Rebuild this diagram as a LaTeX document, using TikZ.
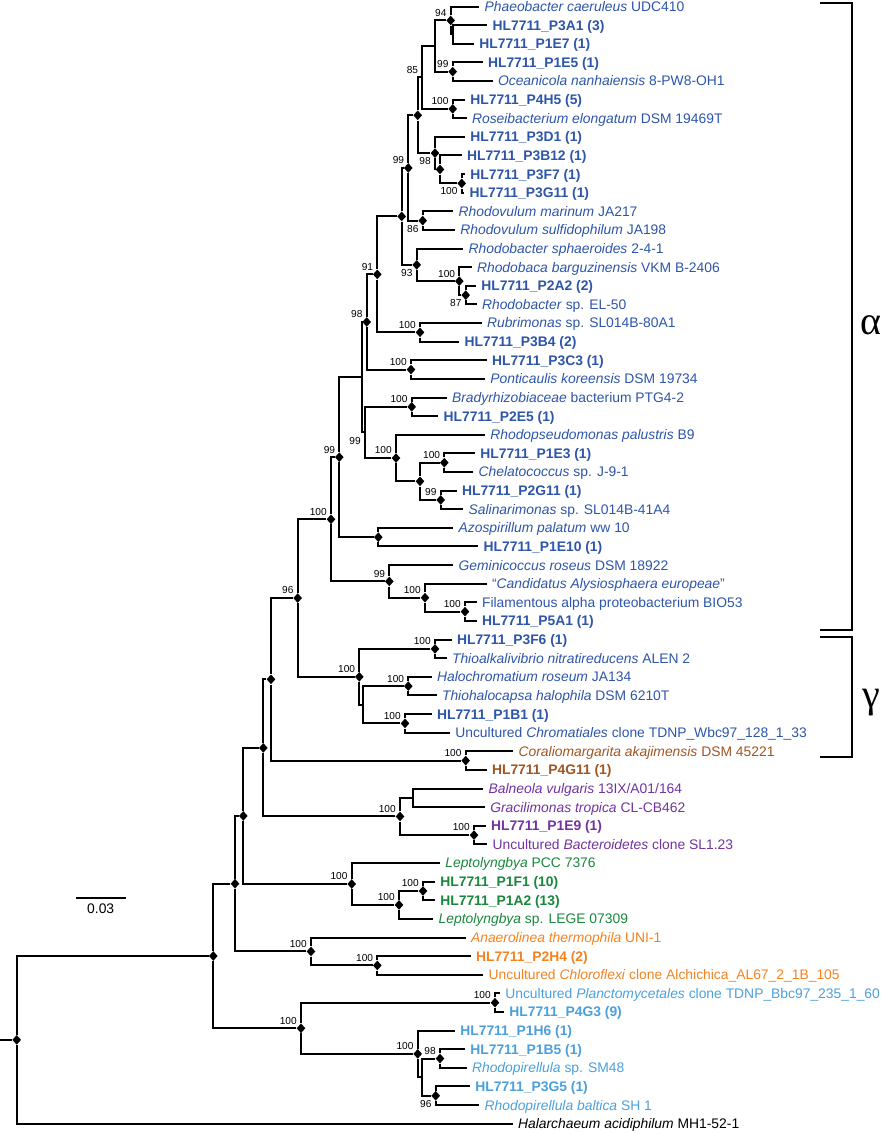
\documentclass[tikz,border=0pt]{standalone}
\usepackage{fontspec}
\setmainfont{Liberation Sans}
\newfontfamily\greekfont{Liberation Serif}
\usetikzlibrary{shapes.geometric}
\definecolor{alphablue}{RGB}{45,85,170}
\definecolor{verrubrown}{RGB}{160,85,35}
\definecolor{bactpurple}{RGB}{115,50,160}
\definecolor{cyangreen}{RGB}{25,135,60}
\definecolor{chlororange}{RGB}{245,130,30}
\definecolor{planctblue}{RGB}{75,160,220}
\newcommand{\leaffont}{\fontsize{10.4}{12}\selectfont}
\tikzset{
    leaf/.style = {anchor=west, inner sep=0.5pt, outer sep=3.5pt, text height=7.4pt, text depth=0pt, font=\leaffont},
    iso/.style = {font=\leaffont\bfseries},
    ca/.style = {text=alphablue},
    cv/.style = {text=verrubrown},
    cb/.style = {text=bactpurple},
    cc/.style = {text=cyangreen},
    cf/.style = {text=chlororange},
    cp/.style = {text=planctblue},
    junc/.style = {diamond, fill=black, inner sep=0pt, minimum width=6.6pt, minimum height=7.4pt},
    boot/.style = {font=\fontsize{7.6}{8}\selectfont, inner sep=0pt, text height=5.4pt, text depth=0pt},
    bsa/.style = {boot, anchor=east, xshift=-3pt, yshift=5.8pt}, % above left
    bsb/.style = {boot, anchor=east, xshift=-3pt, yshift=-6pt}, % below left
    branch/.style = {-, line width=1.5pt, black},
    bracket/.style = {-, line width=1.2pt, black},
    greek/.style = {font=\greekfont\fontsize{30}{32}\selectfont, inner sep=0pt}
}

\begin{document}
\begin{tikzpicture}[x=0.75pt, y=-13.965pt]
\useasboundingbox (0,-0.349) rectangle (885,60.553);

% tips
\node[leaf,ca] at (479.3, 0) (t0) {\textit{Phaeobacter caeruleus} UDC410};
\node[leaf,ca,iso] at (487.3, 1) (t1) {HL7711\_P3A1 (3)};
\node[leaf,ca,iso] at (474.0, 2) (t2) {HL7711\_P1E7 (1)};
\node[leaf,ca,iso] at (482.7, 3) (t3) {HL7711\_P1E5 (1)};
\node[leaf,ca] at (492.7, 4) (t4) {\textit{Oceanicola nanhaiensis} 8-PW8-OH1};
\node[leaf,ca,iso] at (465.0, 5) (t5) {HL7711\_P4H5 (5)};
\node[leaf,ca] at (466.7, 6) (t6) {\textit{Roseibacterium elongatum} DSM 19469T};
\node[leaf,ca,iso] at (465.0, 7) (t7) {HL7711\_P3D1 (1)};
\node[leaf,ca,iso] at (461.7, 8) (t8) {HL7711\_P3B12 (1)};
\node[leaf,ca,iso] at (465.0, 9) (t9) {HL7711\_P3F7 (1)};
\node[leaf,ca,iso] at (464.3,10) (t10) {HL7711\_P3G11 (1)};
\node[leaf,ca] at (453.3,11) (t11) {\textit{Rhodovulum marinum} JA217};
\node[leaf,ca] at (455.0,12) (t12) {\textit{Rhodovulum sulfidophilum} JA198};
\node[leaf,ca] at (463.3,13) (t13) {\textit{Rhodobacter sphaeroides} 2-4-1};
\node[leaf,ca] at (471.7,14) (t14) {\textit{Rhodobaca barguzinensis} VKM B-2406};
\node[leaf,ca,iso] at (476.0,15) (t15) {HL7711\_P2A2 (2)};
\node[leaf,ca] at (476.7,16) (t16) {\textit{Rhodobacter} sp. EL-50};
\node[leaf,ca] at (481.7,17) (t17) {\textit{Rubrimonas} sp. SL014B-80A1};
\node[leaf,ca,iso] at (459.3,18) (t18) {HL7711\_P3B4 (2)};
\node[leaf,ca,iso] at (486.7,19) (t19) {HL7711\_P3C3 (1)};
\node[leaf,ca] at (485.0,20) (t20) {\textit{Ponticaulis koreensis} DSM 19734};
\node[leaf,ca] at (446.7,21) (t21) {\textit{Bradyrhizobiaceae} bacterium PTG4-2};
\node[leaf,ca,iso] at (438.3,22) (t22) {HL7711\_P2E5 (1)};
\node[leaf,ca] at (485.0,23) (t23) {\textit{Rhodopseudomonas palustris} B9};
\node[leaf,ca,iso] at (475.0,24) (t24) {HL7711\_P1E3 (1)};
\node[leaf,ca] at (473.3,25) (t25) {\textit{Chelatococcus} sp. J-9-1};
\node[leaf,ca,iso] at (456.7,26) (t26) {HL7711\_P2G11 (1)};
\node[leaf,ca] at (463.3,27) (t27) {\textit{Salinarimonas} sp. SL014B-41A4};
\node[leaf,ca] at (453.3,28) (t28) {\textit{Azospirillum palatum} ww 10};
\node[leaf,ca,iso] at (478.3,29) (t29) {HL7711\_P1E10 (1)};
\node[leaf,ca] at (453.3,30) (t30) {\textit{Geminicoccus roseus} DSM 18922};
\node[leaf,ca] at (486.7,31) (t31) {“\textit{Candidatus Alysiosphaera europeae}”};
\node[leaf,ca] at (476.7,32) (t32) {Filamentous alpha proteobacterium BIO53};
\node[leaf,ca,iso] at (476.7,33) (t33) {HL7711\_P5A1 (1)};
\node[leaf,ca,iso] at (451.7,34) (t34) {HL7711\_P3F6 (1)};
\node[leaf,ca] at (446.7,35) (t35) {\textit{Thioalkalivibrio nitratireducens} ALEN 2};
\node[leaf,ca] at (431.7,36) (t36) {\textit{Halochromatium roseum} JA134};
\node[leaf,ca] at (436.7,37) (t37) {\textit{Thiohalocapsa halophila} DSM 6210T};
\node[leaf,ca,iso] at (431.7,38) (t38) {HL7711\_P1B1 (1)};
\node[leaf,ca] at (450.0,39) (t39) {Uncultured \textit{Chromatiales} clone TDNP\_Wbc97\_128\_1\_33};
\node[leaf,cv] at (513.3,40) (t40) {\textit{Coraliomargarita akajimensis} DSM 45221};
\node[leaf,cv,iso] at (486.7,41) (t41) {HL7711\_P4G11 (1)};
\node[leaf,cb] at (483.3,42) (t42) {\textit{Balneola vulgaris} 13IX/A01/164};
\node[leaf,cb] at (485.0,43) (t43) {\textit{Gracilimonas tropica} CL-CB462};
\node[leaf,cb,iso] at (485.7,44) (t44) {HL7711\_P1E9 (1)};
\node[leaf,cb] at (487.3,45) (t45) {Uncultured \textit{Bacteroidetes} clone SL1.23};
\node[leaf,cc] at (440.0,46) (t46) {\textit{Leptolyngbya} PCC 7376};
\node[leaf,cc,iso] at (435.0,47) (t47) {HL7711\_P1F1 (10)};
\node[leaf,cc,iso] at (435.0,48) (t48) {HL7711\_P1A2 (13)};
\node[leaf,cc] at (433.3,49) (t49) {\textit{Leptolyngbya} sp. LEGE 07309};
\node[leaf,cf] at (465.7,50) (t50) {\textit{Anaerolinea thermophila} UNI-1};
\node[leaf,cf,iso] at (470.7,51) (t51) {HL7711\_P2H4 (2)};
\node[leaf,cf] at (483.3,52) (t52) {Uncultured \textit{Chloroflexi} clone Alchichica\_AL67\_2\_1B\_105};
\node[leaf,cp] at (500.0,53) (t53) {Uncultured \textit{Planctomycetales} clone TDNP\_Bbc97\_235\_1\_60};
\node[leaf,cp,iso] at (504.0,54) (t54) {HL7711\_P4G3 (9)};
\node[leaf,cp,iso] at (455.0,55) (t55) {HL7711\_P1H6 (1)};
\node[leaf,cp,iso] at (465.0,56) (t56) {HL7711\_P1B5 (1)};
\node[leaf,cp] at (466.7,57) (t57) {\textit{Rhodopirellula} sp. SM48};
\node[leaf,cp,iso] at (470.0,58) (t58) {HL7711\_P3G5 (1)};
\node[leaf,cp] at (479.3,59) (t59) {\textit{Rhodopirellula baltica} SH 1};
\node[leaf] at (512.7,60) (t60) {\textit{Halarchaeum acidiphilum} MH1-52-1};

% internal nodes
\node[junc] at (450.7, 0.75) (A) {};
\coordinate (B) at (452.7, 1.5);
\coordinate (D) at (435.0, 2.125);
\node[junc] at (452.7, 3.5) (E) {};
\coordinate (C) at (422.3, 3.8125);
\node[junc] at (452.7, 5.5) (F) {};
\node[junc] at (417.7, 5.84375) (G) {};
\node[junc] at (461.7, 9.5) (J) {};
\node[junc] at (440.0, 8.75) (I) {};
\node[junc] at (435.0, 7.875) (H) {};
\node[junc] at (422.7,11.5) (L) {};
\node[junc] at (408.3, 8.671875) (K) {};
\node[junc] at (465.7,15.5) (P) {};
\node[junc] at (459.3,14.75) (O) {};
\node[junc] at (416.7,13.875) (N) {};
\node[junc] at (401.7,11.27344) (M) {};
\node[junc] at (420.0,17.5) (R) {};
\node[junc] at (377.3,14.38672) (Q) {};
\node[junc] at (411.0,19.5) (T) {};
\node[junc] at (366.7,16.94336) (S) {};
\node[junc] at (411.7,21.5) (X) {};
\node[junc] at (444.3,24.5) (AA) {};
\node[junc] at (440.7,26.5) (AB) {};
\node[junc] at (420.0,25.5) (Z) {};
\node[junc] at (396.0,24.25) (Y) {};
\coordinate (W) at (365.0,22.875);
\coordinate (U) at (361.7,19.90918);
\node[junc] at (378.3,28.5) (AC) {};
\node[junc] at (339.3,24.20459) (V) {};
\node[junc] at (465.0,32.5) (AG) {};
\node[junc] at (425.0,31.75) (AF) {};
\node[junc] at (389.3,30.875) (AE) {};
\node[junc] at (331.0,27.5398) (AD) {};
\node[junc] at (435.0,34.5) (AJ) {};
\node[junc] at (408.3,36.5) (AL) {};
\node[junc] at (405.0,38.5) (AM) {};
\coordinate (AK) at (363.3,37.5);
\node[junc] at (359.3,36) (AI) {};
\node[junc] at (297.7,31.7699) (AH) {};
\node[junc] at (465.7,40.5) (AO) {};
\node[junc] at (271.0,36.1349) (AN) {};
\coordinate (AR) at (413.3,42.5);
\node[junc] at (474.0,44.5) (AS) {};
\node[junc] at (400.0,43.5) (AQ) {};
\node[junc] at (263.3,39.8175) (AP) {};
\node[junc] at (423.0,47.5) (AW) {};
\node[junc] at (399.0,48.25) (AV) {};
\node[junc] at (351.7,47.125) (AU) {};
\node[junc] at (243.3,43.4712) (AT) {};
\node[junc] at (377.3,51.5) (AZ) {};
\node[junc] at (311.0,50.75) (AY) {};
\node[junc] at (235.0,47.1106) (AX) {};
\node[junc] at (495.0,53.5) (BC) {};
\node[junc] at (440.0,56.5) (BF) {};
\node[junc] at (435.7,58.5) (BG) {};
\coordinate (BE) at (421.7,57.5);
\node[junc] at (417.7,56.25) (BD) {};
\node[junc] at (301.0,54.875) (BB) {};
\node[junc] at (213.3,50.9928) (BA) {};
\node[junc] at (16.7,55.4964) (BH) {};
\coordinate (stub) at (0,55.4964);

% branches
\draw[branch] (A) |- (t0) (A) |- (B);
\draw[branch] (B) |- (t1) (B) |- (t2);
\draw[branch] (D) |- (A) (D) |- (E);
\draw[branch] (E) |- (t3) (E) |- (t4);
\draw[branch] (C) |- (D) (C) |- (F);
\draw[branch] (F) |- (t5) (F) |- (t6);
\draw[branch] (G) |- (C) (G) |- (H);
\draw[branch] (H) |- (t7) (H) |- (I);
\draw[branch] (I) |- (t8) (I) |- (J);
\draw[branch] (J) |- (t9) (J) |- (t10);
\draw[branch] (K) |- (G) (K) |- (L);
\draw[branch] (L) |- (t11) (L) |- (t12);
\draw[branch] (M) |- (K) (M) |- (N);
\draw[branch] (N) |- (t13) (N) |- (O);
\draw[branch] (O) |- (t14) (O) |- (P);
\draw[branch] (P) |- (t15) (P) |- (t16);
\draw[branch] (Q) |- (M) (Q) |- (R);
\draw[branch] (R) |- (t17) (R) |- (t18);
\draw[branch] (S) |- (Q) (S) |- (T);
\draw[branch] (T) |- (t19) (T) |- (t20);
\draw[branch] (U) |- (S) (U) |- (W);
\draw[branch] (W) |- (X) (W) |- (Y);
\draw[branch] (X) |- (t21) (X) |- (t22);
\draw[branch] (Y) |- (t23) (Y) |- (Z);
\draw[branch] (Z) |- (AA) (Z) |- (AB);
\draw[branch] (AA) |- (t24) (AA) |- (t25);
\draw[branch] (AB) |- (t26) (AB) |- (t27);
\draw[branch] (V) |- (U) (V) |- (AC);
\draw[branch] (AC) |- (t28) (AC) |- (t29);
\draw[branch] (AD) |- (V) (AD) |- (AE);
\draw[branch] (AE) |- (t30) (AE) |- (AF);
\draw[branch] (AF) |- (t31) (AF) |- (AG);
\draw[branch] (AG) |- (t32) (AG) |- (t33);
\draw[branch] (AH) |- (AD) (AH) |- (AI);
\draw[branch] (AI) |- (AJ) (AI) |- (AK);
\draw[branch] (AJ) |- (t34) (AJ) |- (t35);
\draw[branch] (AK) |- (AL) (AK) |- (AM);
\draw[branch] (AL) |- (t36) (AL) |- (t37);
\draw[branch] (AM) |- (t38) (AM) |- (t39);
\draw[branch] (AN) |- (AH) (AN) |- (AO);
\draw[branch] (AO) |- (t40) (AO) |- (t41);
\draw[branch] (AP) |- (AN) (AP) |- (AQ);
\draw[branch] (AQ) |- (AR) (AQ) |- (AS);
\draw[branch] (AR) |- (t42) (AR) |- (t43);
\draw[branch] (AS) |- (t44) (AS) |- (t45);
\draw[branch] (AT) |- (AP) (AT) |- (AU);
\draw[branch] (AU) |- (t46) (AU) |- (AV);
\draw[branch] (AV) |- (AW) (AV) |- (t49);
\draw[branch] (AW) |- (t47) (AW) |- (t48);
\draw[branch] (AX) |- (AT) (AX) |- (AY);
\draw[branch] (AY) |- (t50) (AY) |- (AZ);
\draw[branch] (AZ) |- (t51) (AZ) |- (t52);
\draw[branch] (BA) |- (AX) (BA) |- (BB);
\draw[branch] (BB) |- (BC) (BB) |- (BD);
\draw[branch] (BC) |- (t53) (BC) |- (t54);
\draw[branch] (BD) |- (t55) (BD) |- (BE);
\draw[branch] (BE) |- (BF) (BE) |- (BG);
\draw[branch] (BF) |- (t56) (BF) |- (t57);
\draw[branch] (BG) |- (t58) (BG) |- (t59);
\draw[branch] (BH) |- (BA) (BH) |- (t60);
\draw[branch] (stub) -- (BH);

% bootstrap values
\node[bsa] at (A) {94};
\node[bsa] at (E) {99};
\node[bsa] at (C) {85};
\node[bsa] at (F) {100};
\node[bsb] at (H) {98};
\node[bsb] at (J) {100};
\node[bsa] at (K) {99};
\node[bsb] at (L) {86};
\node[bsb] at (N) {93};
\node[bsa] at (O) {100};
\node[bsb] at (P) {87};
\node[bsa] at (Q) {91};
\node[bsa] at (R) {100};
\node[bsa] at (S) {98};
\node[bsa] at (T) {100};
\node[bsa] at (X) {100};
\node[bsb] at (W) {99};
\node[bsa] at (Y) {100};
\node[bsa] at (AA) {100};
\node[bsa] at (AB) {99};
\node[bsa] at (V) {99};
\node[bsa] at (AD) {100};
\node[bsa] at (AE) {99};
\node[bsa] at (AF) {100};
\node[bsa] at (AG) {100};
\node[bsa] at (AH) {96};
\node[bsa] at (AI) {100};
\node[bsa] at (AJ) {100};
\node[bsa] at (AL) {100};
\node[bsa] at (AM) {100};
\node[bsa] at (AO) {100};
\node[bsa] at (AQ) {100};
\node[bsa] at (AS) {100};
\node[bsa] at (AU) {100};
\node[bsa] at (AV) {100};
\node[bsa] at (AW) {100};
\node[bsa] at (AY) {100};
\node[bsa] at (AZ) {100};
\node[bsa] at (BB) {100};
\node[bsa] at (BC) {100};
\node[bsa] at (BD) {100};
\node[bsa] at (BF) {98};
\node[bsb] at (BG) {96};

% scale bar
\coordinate (sbl) at (75.7,47.86);
\coordinate (sbr) at (125.7,47.86);
\draw[branch] (sbl) -- (sbr);
\node[font=\leaffont] at (100.7,48.47) (sbt) {0.03};

% class brackets
\coordinate (abt) at (820,-0.188);
\coordinate (abb) at (820,33.49);
\coordinate (gbt) at (820,33.86);
\coordinate (gbb) at (820,40.3);
\draw[bracket] (abt) -- ++(32,0) |- (abb);
\draw[bracket] (gbt) -- ++(32,0) |- (gbb);
\node[greek] at (871,17.1) (alpha) {α};
\node[greek] at (871,37.4) (gamma) {γ};

\end{tikzpicture}
\end{document}
